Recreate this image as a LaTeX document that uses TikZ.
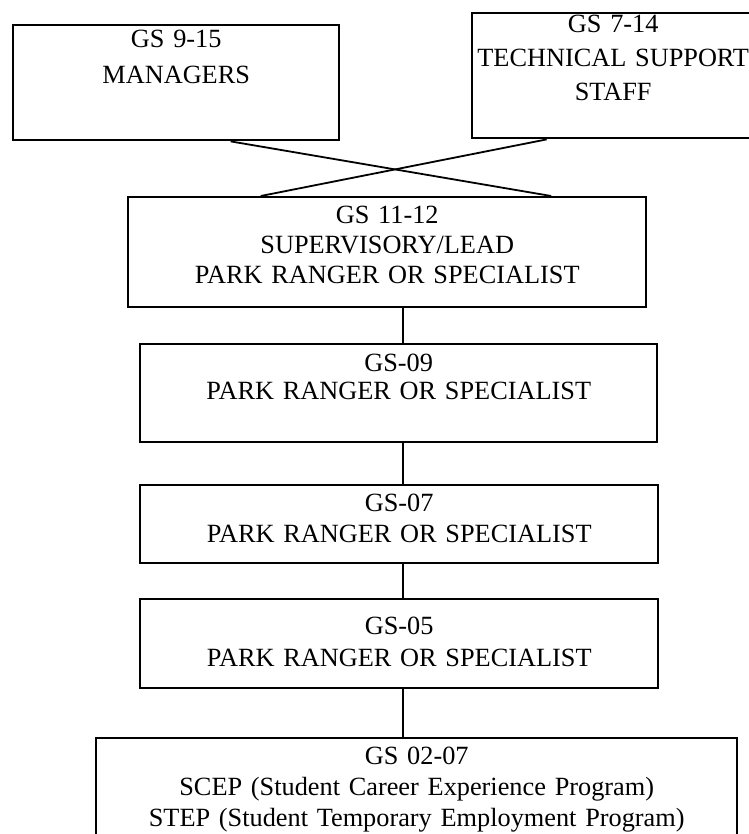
\documentclass[tikz,border=0pt]{standalone}
\usepackage{fontspec}
\setmainfont{Liberation Serif}
\usetikzlibrary{calc}

\begin{document}
\begin{tikzpicture}[x=1pt, y=-1pt, line width=1.8pt]
\tikzstyle{grade}=[draw, rectangle, line width=2.4pt, anchor=north west, inner sep=0pt, align=center, font=\fontsize{26.3}{31}\selectfont]
\useasboundingbox (0,0) rectangle (748,834);
\node[grade, text width=326pt, text height=22pt, text depth=93pt, font=\fontsize{26.3}{36}\selectfont] (mgr) at (12,24) {GS 9-15\\MANAGERS};
\node[grade, text width=282pt, text height=19pt, text depth=106pt, font=\fontsize{26.3}{34}\selectfont] (tech) at (471,12) {GS 7-14\\TECHNICAL SUPPORT\\STAFF};
\node[grade, text width=518pt, text height=26pt, text depth=84pt, font=\fontsize{26.3}{30}\selectfont] (sup) at (127,196) {GS 11-12\\SUPERVISORY/LEAD\\PARK RANGER OR SPECIALIST};
\node[grade, text width=517pt, text height=27pt, text depth=71pt, font=\fontsize{26.3}{28.5}\selectfont] (gs09) at (139,343) {GS-09\\PARK RANGER OR SPECIALIST};
\node[grade, text width=518pt, text height=26pt, text depth=52pt] (gs07) at (139,484) {GS-07\\PARK RANGER OR SPECIALIST};
\node[grade, text width=518pt, text height=35pt, text depth=54pt, font=\fontsize{26.3}{32}\selectfont] (gs05) at (139,598) {GS-05\\PARK RANGER OR SPECIALIST};
\node[grade, text width=641pt, text height=26pt, text depth=73pt] (prog) at (95,737) {GS 02-07\\SCEP (Student Career Experience Program)\\STEP (Student Temporary Employment Program)};
% crossing lines from the top boxes
\draw ($(mgr.south west)!0.666!(mgr.south east)$) -- ($(sup.north west)!0.815!(sup.north east)$);
\draw ($(tech.south west)!0.266!(tech.south east)$) -- ($(sup.north west)!0.257!(sup.north east)$);
\coordinate (spine) at (403,0);
\foreach \a/\b in {sup/gs09,gs09/gs07,gs07/gs05,gs05/prog}{\draw (\a.south -| spine) -- (\b.north -| spine);}
\end{tikzpicture}
\end{document}
